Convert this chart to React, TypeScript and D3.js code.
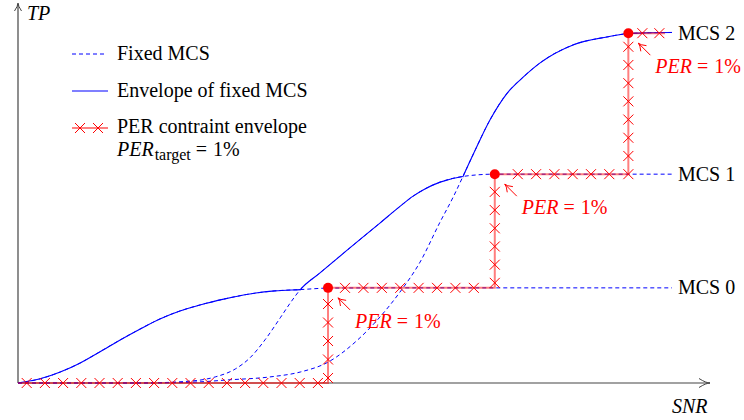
import React from "react";
import * as d3 from "d3";

// ---------- data (abstract units: SNR 0..100, TP 0..100) ----------
const mcs0Snr = [0, 3.2, 6.1, 9, 11.8, 14.7, 17.6, 20.5, 23.4, 26.3, 29.9, 33.5, 37.1, 40.8, 45.1, 55.2, 94.5];
const mcs0Tp = [0, 1.1, 2.9, 5.3, 8.2, 11.3, 14.2, 16.9, 19, 20.6, 22.2, 23.5, 24.3, 24.65, 25.05, 25.1, 25.1];

const mcs1Snr = [0, 17.6, 24.9, 28.5, 31.4, 33.5, 35.7, 37.9, 39.3, 40.8, 43.6, 48.0, 52.3, 55.2, 57.1, 58.8, 61.0, 64.3, 68.9, 74.0, 94.5];
const mcs1Tp = [0, 0, 0.5, 1.6, 3.7, 6.6, 11.4, 17.2, 21.0, 24.65, 29.0, 35.7, 42.2, 46.6, 49.3, 51.2, 53.0, 54.5, 55.1, 55.1, 55.1];

const mcs2Snr = [0, 19.1, 26.3, 30.2, 36.4, 40.8, 44.8, 49.1, 52.3, 55.2, 58.1, 61.0, 62.9, 64.3, 65.8, 68.2, 70.7, 73.0, 75.4, 80.2, 85.1, 88.2, 91.3, 94.5];
const mcs2Tp = [0, 0, 0.3, 0.8, 1.6, 2.9, 5.5, 11.4, 17.4, 24.0, 31.9, 42.5, 49.1, 54.5, 60.4, 69.4, 76.5, 80.7, 84.4, 89.2, 91.3, 92.2, 92.4, 92.5];

const mcsLabels = ["MCS 0", "MCS 1", "MCS 2"];
const crossings = [40.8, 64.3]; // SNR where the envelope switches MCS
const perThresholds = [44.8, 68.9, 88.2]; // SNR where PER = 1%
const perLevels = [25.1, 55.1, 92.3];
const perEnd = 93.5;
const curveEnd = 94.5;
const legendLabels = ["Fixed MCS", "Envelope of fixed MCS", "PER contraint envelope"];

// ---------- layout ----------
const W = 744;
const H = 420;
const x = d3.scaleLinear().domain([0, 100]).range([18, 710]);
const y = d3.scaleLinear().domain([0, 100]).range([383, 4]);

const BLUE = "#0000ff";
const RED = "#ff0000";
const FONT = "'Liberation Serif', 'Times New Roman', serif";
const FS = 20;

// marker pattern along each red segment: [first offset px, spacing px]
const markerPattern: [number, number][] = [
  [8.7, 18.2],
  [5, 18.5],
  [17, 18.4],
  [5, 18.2],
  [23, 18.3],
  [0, 18.2],
  [14, 17],
];

const zip = (a: number[], b: number[]) => a.map((v, i) => [v, b[i]] as [number, number]);
const curves = [zip(mcs0Snr, mcs0Tp), zip(mcs1Snr, mcs1Tp), zip(mcs2Snr, mcs2Tp)];

const line = d3
  .line<[number, number]>()
  .x((d) => x(d[0]))
  .y((d) => y(d[1]))
  .curve(d3.curveMonotoneX);

function Cross({ cx, cy, r = 5 }: { cx: number; cy: number; r?: number }) {
  return (
    <path
      d={`M${cx - r},${cy - r}L${cx + r},${cy + r}M${cx - r},${cy + r}L${cx + r},${cy - r}`}
      stroke={RED}
      strokeWidth={1}
      fill="none"
    />
  );
}

export default function App() {
  // red step envelope in data space
  const stepPts: [number, number][] = [[0, 0]];
  perThresholds.forEach((t, i) => {
    stepPts.push([t, i === 0 ? 0 : perLevels[i - 1]]);
    stepPts.push([t, perLevels[i]]);
  });
  stepPts.push([perEnd, perLevels[perLevels.length - 1]]);
  const stepPx = stepPts.map(([a, b]) => [x(a), y(b)] as [number, number]);
  const stepPath = d3.line()(stepPx) as string;

  const markers: [number, number][] = [];
  for (let s = 0; s < stepPx.length - 1; s++) {
    const [x0, y0] = stepPx[s];
    const [x1, y1] = stepPx[s + 1];
    const len = Math.hypot(x1 - x0, y1 - y0);
    const [off, sp] = markerPattern[s] || [0, 18.3];
    for (let d = off; d <= len - 4; d += sp) {
      const f = d / len;
      markers.push([x0 + (x1 - x0) * f, y0 + (y1 - y0) * f]);
    }
  }

  const bounds = [0, ...crossings, 100];

  const arrowHead = (tx: number, ty: number, dx: number, dy: number, len: number, half: number) => {
    const n = Math.hypot(dx, dy);
    const ux = dx / n, uy = dy / n;
    const px = -uy, py = ux;
    const bx = tx - ux * len, by = ty - uy * len;
    return `M${bx + px * half},${by + py * half}Q${tx - ux * len * 0.35},${ty - uy * len * 0.35} ${tx},${ty}Q${tx - ux * len * 0.35},${ty - uy * len * 0.35} ${bx - px * half},${by - py * half}`;
  };

  return (
    <svg
      width={W}
      height={H}
      viewBox={`0 0 ${W} ${H}`}
      style={{ position: "absolute", left: 0, top: 0, background: "#fff" }}
      fontFamily={FONT}
    >
      <defs>
        {curves.map((_, i) => (
          <clipPath id={`env-${i}`} key={i}>
            <rect x={x(bounds[i])} y={0} width={x(bounds[i + 1]) - x(bounds[i])} height={H} />
          </clipPath>
        ))}
      </defs>

      {/* axes */}
      <g stroke="#444" strokeWidth={1.2} fill="none">
        <line x1={x(0)} y1={y(0)} x2={x(100)} y2={y(0)} />
        <line x1={x(0)} y1={y(0)} x2={x(0)} y2={y(100)} />
        <path d={arrowHead(x(100), y(0), 1, 0, 11, 4.5)} strokeWidth={1} />
        <path d={arrowHead(x(0), y(100) - 1, 0, -1, 8, 3.5)} strokeWidth={1} />
      </g>
      <text x={27} y={20} fontSize={FS} fontStyle="italic">TP</text>
      <text x={672} y={413} fontSize={FS} fontStyle="italic">SNR</text>

      {/* fixed MCS (dashed) */}
      {curves.map((c, i) => (
        <path key={`d${i}`} d={line(c) as string} stroke={BLUE} strokeWidth={1} strokeDasharray="4,3" fill="none" />
      ))}
      {/* envelope (solid) */}
      {curves.map((c, i) => (
        <path key={`s${i}`} d={line(c) as string} stroke={BLUE} strokeWidth={1.1} fill="none" clipPath={`url(#env-${i})`} />
      ))}

      {/* MCS labels */}
      {mcsLabels.map((l, i) => (
        <text key={l} x={x(curveEnd) + 6} y={y(perLevels[i]) + 6.5} fontSize={FS} fill="#000">
          {l}
        </text>
      ))}

      {/* PER constraint envelope */}
      <path d={stepPath} stroke={RED} strokeOpacity={0.5} strokeWidth={2} fill="none" />
      {markers.map(([mx, my], i) => (
        <Cross key={i} cx={mx} cy={my} />
      ))}
      {perThresholds.map((t, i) => {
        const cx = x(t);
        const cy = y(perLevels[i]);
        return (
          <g key={`p${i}`}>
            <circle cx={cx} cy={cy} r={5} fill={RED} />
            <line x1={cx + 22} y1={cy + 22} x2={cx + 10} y2={cy + 10} stroke={RED} strokeWidth={1} />
            <path d={arrowHead(cx + 10, cy + 10, -1, -1, 7.5, 4)} stroke={RED} strokeWidth={1} fill="none" />
            <text x={cx + 27} y={cy + 40} fontSize={FS} fill={RED}>
              <tspan fontStyle="italic">PER</tspan>
              <tspan dx={5}>=</tspan>
              <tspan dx={6}>1%</tspan>
            </text>
          </g>
        );
      })}

      {/* legend */}
      <line x1={72} y1={54} x2={105} y2={54} stroke={BLUE} strokeWidth={1} strokeDasharray="4,3" />
      <text x={117} y={60} fontSize={FS}>{legendLabels[0]}</text>
      <line x1={72} y1={91} x2={108} y2={91} stroke={BLUE} strokeWidth={1.1} />
      <text x={117} y={97} fontSize={FS}>{legendLabels[1]}</text>
      <line x1={72} y1={128} x2={108} y2={128} stroke={RED} strokeOpacity={0.5} strokeWidth={2} />
      <Cross cx={80} cy={128} />
      <Cross cx={98} cy={128} />
      <text x={117} y={133} fontSize={FS}>{legendLabels[2]}</text>
      <text x={117} y={156} fontSize={FS}>
        <tspan fontStyle="italic">PER</tspan>
        <tspan fontSize={16} dy={4} dx={1}>target</tspan>
        <tspan dy={-4} dx={5}>=</tspan>
        <tspan dx={6}>1%</tspan>
      </text>
    </svg>
  );
}
